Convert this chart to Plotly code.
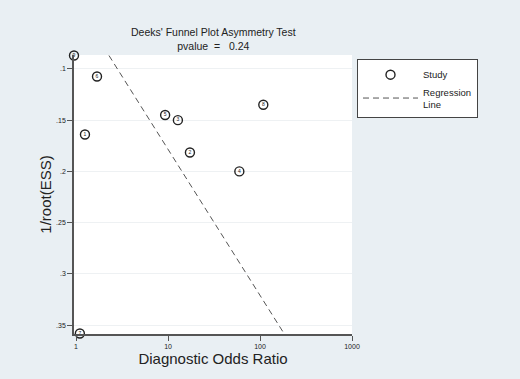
import numpy as np
import plotly.graph_objects as go

# Study data
study_labels = ["1", "2", "3", "4", "5", "6", "7", "8", "9"]
dor = [1.25, 17.3, 12.8, 59.6, 9.3, 1.69, 1.1, 108.6, 0.95]
inv_root_ess = [0.164, 0.1816, 0.150, 0.200, 0.145, 0.1075, 0.358, 0.135, 0.087]

# Regression: ln(DOR) = a + b * 1/root(ESS)
reg_intercept = -0.583
reg_slope = 16.17

y_ticks = [0.1, 0.15, 0.2, 0.25, 0.3, 0.35]
y_tick_text = [".1", ".15", ".2", ".25", ".3", ".35"]
x_ticks = [1, 10, 100, 1000]
x_tick_text = ["1", "10", "100", "1000"]

FONT = "Liberation Sans, Arial, sans-serif"
BG = "#e9eff3"
AX = "#555555"

y_line = np.array([min(inv_root_ess), max(inv_root_ess)])
x_line = np.exp(reg_intercept + reg_slope * y_line)

fig = go.Figure()
fig.add_trace(go.Scatter(
    x=dor, y=inv_root_ess, mode="markers", name="Study",
    marker=dict(symbol="circle-open", size=9, color="#222222", line=dict(width=1.4, color="#222222")),
    cliponaxis=False,
))
fig.add_trace(go.Scatter(
    x=dor, y=inv_root_ess, mode="text", text=study_labels, showlegend=False,
    textfont=dict(size=5, color="#222222", family=FONT), cliponaxis=False,
))
fig.add_trace(go.Scatter(
    x=x_line, y=y_line, mode="lines", name="Regression<br>Line",
    line=dict(color="#555555", width=1, dash="6px,4px"),
))

fig.update_layout(
    width=520, height=379,
    margin=dict(l=74, r=168, t=55, b=45),
    paper_bgcolor=BG, plot_bgcolor="white",
    font=dict(family=FONT, color="#222222"),
    legend=dict(
        x=1.018, y=0.985, xanchor="left", yanchor="top",
        bgcolor="white", bordercolor="#444444", borderwidth=1,
        font=dict(size=9.5, family=FONT, color="#222222"),
        itemwidth=55, tracegroupgap=0,
    ),
    annotations=[dict(
        text="Deeks' Funnel Plot Asymmetry Test<br>pvalue&nbsp; =&nbsp;&nbsp; 0.24",
        xref="paper", yref="paper", x=0.5, y=1, xanchor="center", yanchor="bottom",
        yshift=1, showarrow=False, font=dict(size=10.5, family=FONT, color="#222222"),
    )],
)
fig.update_xaxes(
    type="log", range=[np.log10(0.95), 3],
    tickvals=x_ticks, ticktext=x_tick_text, ticks="outside", ticklen=5, tickcolor=AX,
    tickfont=dict(size=7), showgrid=False, zeroline=False,
    showline=True, linecolor=AX, linewidth=1.5,
    title=dict(text="Diagnostic Odds Ratio", font=dict(size=15), standoff=1),
)
fig.update_yaxes(
    range=[0.3585, 0.0865],
    tickvals=y_ticks, ticktext=y_tick_text, ticks="outside", ticklen=5, tickcolor=AX,
    tickfont=dict(size=7), showgrid=True, gridcolor="#eef1f3", gridwidth=1, zeroline=False,
    showline=True, linecolor=AX, linewidth=1.5,
    title=dict(text="1/root(ESS)", font=dict(size=15), standoff=1),
)

fig.write_html(
    "out.html",
    config={"displayModeBar": False},
    post_script="document.body.style.margin='0';document.body.style.background='#e9eff3';",
)
